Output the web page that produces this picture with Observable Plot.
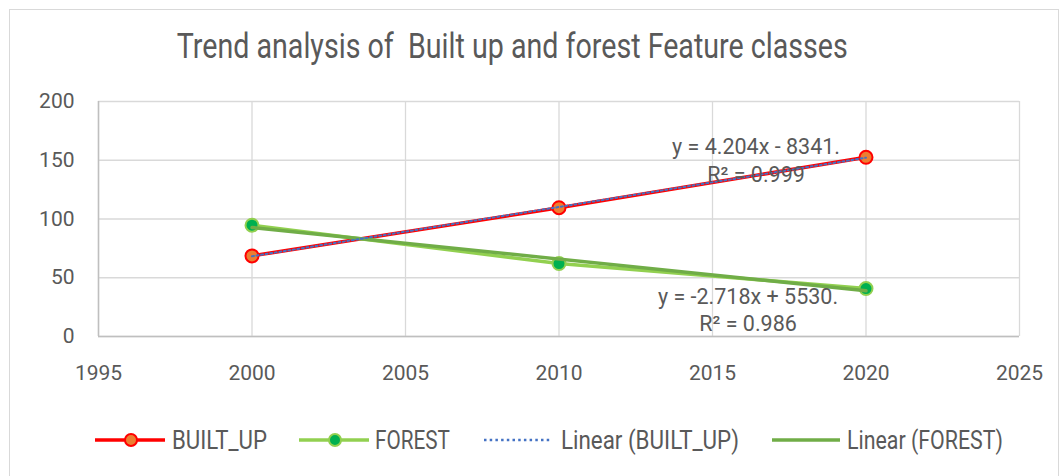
<!DOCTYPE html>
<html><head><meta charset="utf-8">
<script src="https://cdn.jsdelivr.net/npm/d3@7"></script>
<script src="https://cdn.jsdelivr.net/npm/@observablehq/plot@0.6"></script>
<style>
body{margin:0;background:#fff;font-family:Roboto,"Liberation Sans",sans-serif;}
#wrap{position:relative;width:1060px;height:476px;overflow:hidden;background:#fff;}
#frame{position:absolute;left:9px;top:9px;width:1050px;height:480px;border:1px solid #d9d9d9;box-sizing:border-box;}
#titleBox{position:absolute;top:26px;left:0;width:1025px;text-align:center;}
#title{display:inline-block;font-size:35px;line-height:1.172;color:#595959;white-space:pre;transform-origin:50% 50%;}
#chart{position:absolute;top:90px;left:0;}
#legend{position:absolute;top:425px;left:0;width:1060px;height:30px;font-size:25px;color:#595959;}
.li{position:absolute;top:0;height:30px;display:flex;align-items:center;white-space:pre;}
.li span{display:inline-block;transform-origin:0 50%;}
</style></head>
<body>
<div id="wrap">
  <div id="frame"></div>
  <div id="titleBox"><span id="title"></span></div>
  <div id="chart"></div>
  <div id="legend"></div>
</div>
<script>
// ---- data ----
const titleText = "Trend analysis of  Built up and forest Feature classes";
const years = [2000, 2010, 2020];
const builtUp = [68.6, 109.6, 152.5];
const forest = [94.7, 62.1, 40.8];
const xTicks = [1995, 2000, 2005, 2010, 2015, 2020, 2025];
const yTicks = [0, 50, 100, 150, 200];
const builtUpEquation = ["y = 4.204x - 8341.", "R² = 0.999"];
const forestEquation = ["y = -2.718x + 5530.", "R² = 0.986"];
const legendLabels = ["BUILT_UP", "FOREST", "Linear (BUILT_UP)", "Linear (FOREST)"];

// ---- colours ----
const C = {
  text: "#595959", grid: "#d9d9d9", axis: "#bfbfbf",
  buLine: "#FF0000", buFill: "#ED7D31",
  foLine: "#92D050", foFill: "#00B050",
  buTrend: "#4472C4", foTrend: "#70AD47"
};

const bu = years.map((year, i) => ({year, value: builtUp[i]}));
const fo = years.map((year, i) => ({year, value: forest[i]}));

// title: condensed to the reference's width
const t = document.getElementById("title");
t.textContent = titleText;
const tw = t.getBoundingClientRect().width;
t.style.transform = `scaleX(${671 / tw})`;

const chart = Plot.plot({
  width: 1060, height: 310,
  marginLeft: 98, marginRight: 41, marginTop: 11, marginBottom: 64,
  x: {domain: [1995, 2025]},
  y: {domain: [0, 200]},
  style: {fontFamily: "Roboto, sans-serif", background: "none", overflow: "visible"},
  marks: [
    Plot.gridX(xTicks, {stroke: C.grid, strokeOpacity: 1, strokeWidth: 1.3}),
    Plot.gridY(yTicks, {stroke: C.grid, strokeOpacity: 1, strokeWidth: 1.3}),
    Plot.ruleX([xTicks[0]], {stroke: C.axis, strokeWidth: 1.5}),
    Plot.ruleY([yTicks[0]], {stroke: C.axis, strokeWidth: 1.5}),
    Plot.axisX(xTicks, {tickSize: 0, tickPadding: 29, fontSize: 21, fill: C.text, tickFormat: d => String(d), label: null}),
    Plot.axisY(yTicks, {tickSize: 0, tickPadding: 24, fontSize: 21, fill: C.text, label: null}),
    Plot.line(bu, {x: "year", y: "value", stroke: C.buLine, strokeWidth: 3.5}),
    Plot.dot(bu, {x: "year", y: "value", r: 6.5, fill: C.buFill, stroke: C.buLine, strokeWidth: 2}),
    Plot.line(fo, {x: "year", y: "value", stroke: C.foLine, strokeWidth: 3.5}),
    Plot.dot(fo, {x: "year", y: "value", r: 6.5, fill: C.foFill, stroke: C.foLine, strokeWidth: 2}),
    Plot.linearRegressionY(fo, {x: "year", y: "value", stroke: C.foTrend, strokeWidth: 3.5, ci: 0}),
    Plot.linearRegressionY(bu, {x: "year", y: "value", stroke: C.buTrend, strokeWidth: 2, strokeDasharray: "2,2.6", ci: 0}),
    Plot.text(bu.slice(-1), {x: "year", y: "value", text: () => builtUpEquation.join("\n"),
      dx: -110, dy: 2, lineHeight: 1.3, fontSize: 21.5, fill: C.text, textAnchor: "middle"}),
    Plot.text(fo.slice(-1), {x: "year", y: "value", text: () => forestEquation.join("\n"),
      dx: -118, dy: 20, lineHeight: 1.3, fontSize: 21.5, fill: C.text, textAnchor: "middle"})
  ]
});
document.getElementById("chart").appendChild(chart);

// ---- legend ----
const legend = document.getElementById("legend");
const samples = [
  `<svg width="72" height="16" style="margin-right:5px"><line x1="0" y1="8" x2="70" y2="8" stroke="${C.buLine}" stroke-width="3.5"/><circle cx="36" cy="8" r="6" fill="${C.buFill}" stroke="${C.buLine}" stroke-width="2"/></svg>`,
  `<svg width="72" height="16" style="margin-right:4px"><line x1="0" y1="8" x2="70" y2="8" stroke="${C.foLine}" stroke-width="3.5"/><circle cx="36" cy="8" r="6" fill="${C.foFill}" stroke="${C.foLine}" stroke-width="2"/></svg>`,
  `<svg width="66" height="16" style="margin-right:11px"><line x1="0" y1="8" x2="66" y2="8" stroke="${C.buTrend}" stroke-width="2.5" stroke-dasharray="2.5,3.2"/></svg>`,
  `<svg width="68" height="16" style="margin-right:7px"><line x1="0" y1="8" x2="68" y2="8" stroke="${C.foTrend}" stroke-width="3.5"/></svg>`
];
const lefts = [95, 299, 484, 772];
const textWidths = [95, 75, 178, 156];
legendLabels.forEach((lab, i) => {
  const d = document.createElement("div");
  d.className = "li";
  d.style.left = lefts[i] + "px";
  d.innerHTML = samples[i] + `<span>${lab}</span>`;
  legend.appendChild(d);
  const s = d.querySelector("span");
  s.style.transform = `scaleX(${textWidths[i] / s.getBoundingClientRect().width})`;
});
</script>
</body></html>
